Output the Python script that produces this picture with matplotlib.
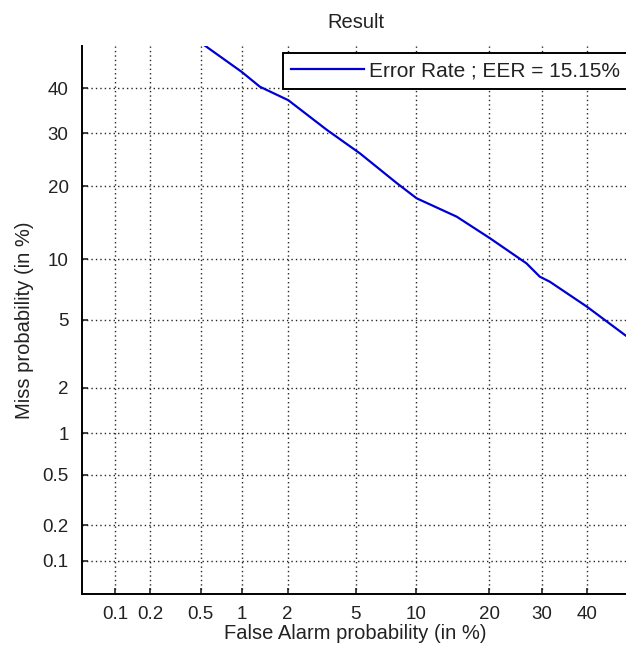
import numpy as np
import matplotlib
matplotlib.use("Agg")
import matplotlib.pyplot as plt
from matplotlib.ticker import FixedLocator, FixedFormatter, NullLocator
from statistics import NormalDist

# ---- data (percent) ----
false_alarm = [0.54, 0.99, 1.32, 2.02, 3.45, 5.28, 8.10, 10.05, 14.97, 20.1, 26.8, 29.5, 31.6, 39.9, 48.9, 55.0]
miss_prob   = [50.0, 43.8, 40.3, 37.2, 30.7, 25.9, 20.5, 18.0, 15.25, 12.4, 9.58, 8.29, 7.84, 5.87, 4.13, 3.3]
tick_values = [0.1, 0.2, 0.5, 1, 2, 5, 10, 20, 30, 40]
tick_labels = ["0.1", "0.2", "0.5", "1", "2", "5", "10", "20", "30", "40"]
legend_label = "Error Rate ; EER = 15.15%"

plt.rcParams["font.family"] = ["Liberation Sans", "DejaVu Sans"]

_nd = NormalDist()
_ppf = np.vectorize(_nd.inv_cdf, otypes=[float])
_cdf = np.vectorize(_nd.cdf, otypes=[float])

def fwd(p):
    p = np.asarray(p, dtype=float)
    q = np.clip(p / 100.0, 1e-10, 1 - 1e-10)
    return _ppf(q)

def inv(z):
    z = np.asarray(z, dtype=float)
    return 100.0 * _cdf(z)

W, H = 626, 652
fig = plt.figure(figsize=(W / 100, H / 100), dpi=100)
fig.patch.set_facecolor("white")
ax_l, ax_r, ax_t, ax_b = 81.7, 629.5, 45.8, 594.0
ax = fig.add_axes([ax_l / W, (H - ax_b) / H, (ax_r - ax_l) / W, (ax_b - ax_t) / H])

ax.set_xscale("function", functions=(fwd, inv))
ax.set_yscale("function", functions=(fwd, inv))

line, = ax.plot(false_alarm, miss_prob, color="#0000d0", linewidth=1.6, solid_joinstyle="round")

ax.set_xlim(0.05, 50)
ax.set_ylim(0.05, 50)

for axis in (ax.xaxis, ax.yaxis):
    axis.set_major_locator(FixedLocator(tick_values))
    axis.set_major_formatter(FixedFormatter(tick_labels))
    axis.set_minor_locator(NullLocator())

ax.grid(True, color="0.15", linestyle=(0, (1, 2.2)), linewidth=1.0)
ax.tick_params(axis="both", direction="in", length=4, width=1.2, labelsize=13.5, colors="#222222")
ax.tick_params(axis="x", pad=8.5)
ax.tick_params(axis="y", pad=9.5)

for s in ("top", "right"):
    ax.spines[s].set_visible(False)
for s in ("left", "bottom"):
    ax.spines[s].set_linewidth(1.4)
    ax.spines[s].set_color("black")

ax.set_title("Result", fontsize=14.5, pad=12.5, color="#222222")
ax.set_xlabel("False Alarm probability (in %)", fontsize=14.5, labelpad=1, color="#222222")
ax.set_ylabel("Miss probability (in %)", fontsize=14.5, labelpad=6, color="#222222")

ax_w = ax_r - ax_l
ax_h = ax_b - ax_t
leg = ax.legend([line], [legend_label], loc="upper left",
                bbox_to_anchor=((282.7 - ax_l) / ax_w, (ax_b - 52.7) / ax_h),
                borderaxespad=0, fancybox=False, edgecolor="black", framealpha=1,
                handlelength=3.5, handletextpad=0.22, borderpad=0.42, fontsize=15)
leg.get_frame().set_linewidth(1.4)
for t in leg.get_texts():
    t.set_color("#222222")

fig.savefig("out.png", dpi=100, facecolor="white")
